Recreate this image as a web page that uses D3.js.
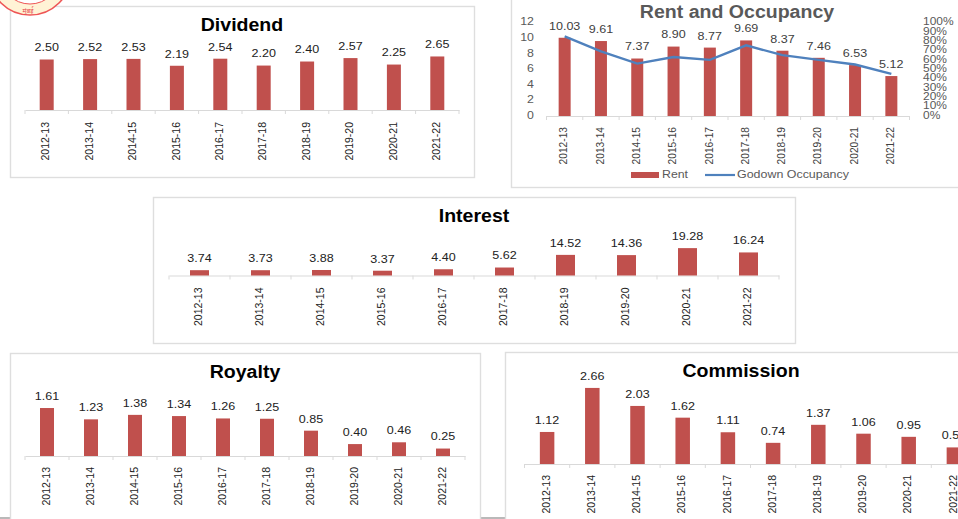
<!DOCTYPE html>
<html><head><meta charset="utf-8">
<style>
html,body{margin:0;padding:0;background:#fff;overflow:hidden}
svg{display:block}
text{font-family:"Liberation Sans",Arial,sans-serif}
</style>
<script src="https://cdn.jsdelivr.net/npm/d3@7/dist/d3.min.js"></script>
</head><body><svg id="c" width="958" height="519"></svg>
<script>
const years = ["2012-13","2013-14","2014-15","2015-16","2016-17","2017-18","2018-19","2019-20","2020-21","2021-22"];
const dividend = [2.50,2.52,2.53,2.19,2.54,2.20,2.40,2.57,2.25,2.65];
const rent = [10.03,9.61,7.37,8.90,8.77,9.69,8.37,7.46,6.53,5.12];
const occupancy = [85,69,56,63,60,75.5,65,60,55,45];
const interest = [3.74,3.73,3.88,3.37,4.40,5.62,14.52,14.36,19.28,16.24];
const royalty = [1.61,1.23,1.38,1.34,1.26,1.25,0.85,0.40,0.46,0.25];
const commission = [1.12,2.66,2.03,1.62,1.11,0.74,1.37,1.06,0.95,0.58];
const leftTicks = [0,2,4,6,8,10,12];
const rightTicks = [0,10,20,30,40,50,60,70,80,90,100];

const RED="#c0504d", GRID="#d9d9d9", FRAME="#dedede", BLUE="#4f81bd";
const svg=d3.select("#c");

// the reference's text is slightly wider than its height suggests
function widen(sel,k){
  sel.each(function(){
    const w=this.getComputedTextLength();
    d3.select(this).attr("textLength",w*k).attr("lengthAdjust","spacingAndGlyphs");
  });
  return sel;
}

[[0,10],[480,505]].forEach(([a,b])=>svg.append("line").attr("x1",a).attr("x2",b).attr("y1",518).attr("y2",518).attr("stroke","#8a8a8a").attr("stroke-width",1.2));

function panel(cfg){
  const g=svg.append("g");
  g.append("rect").attr("x",cfg.frame[0]+.5).attr("y",cfg.frame[1]+.5).attr("width",cfg.frame[2]-cfg.frame[0]).attr("height",cfg.frame[3]-cfg.frame[1])
    .attr("fill","#fff").attr("stroke",FRAME).attr("stroke-width",1.4);
  widen(g.append("text").attr("x",cfg.titleX).attr("y",cfg.titleY).attr("text-anchor","middle").attr("dominant-baseline","middle")
    .attr("font-size",18).attr("font-weight","bold").attr("fill",cfg.titleColor||"#000").text(cfg.title),1.085);
  const x=d3.scaleBand().domain(years).range(cfg.xr);
  const y=d3.scaleLinear().domain([0,cfg.ymax]).range([cfg.y0,cfg.y0-cfg.ymax*cfg.ppu]);
  const ax=g.append("g").attr("transform",`translate(0,${cfg.y0})`).call(d3.axisBottom(x).tickSize(0).tickFormat(d=>d));
  ax.select(".domain").attr("stroke",GRID).attr("stroke-width",1);
  ax.selectAll(".tick text").remove();
  const edges=years.map(d=>x(d)).concat([cfg.xr[1]]);
  g.selectAll("line.tk").data(edges).join("line").attr("class","tk")
    .attr("x1",d=>d).attr("x2",d=>d).attr("y1",cfg.y0).attr("y2",cfg.y0+4).attr("stroke",GRID);
  g.selectAll("rect.bar").data(cfg.values).join("rect").attr("class","bar")
    .attr("x",(d,i)=>x(years[i])+x.bandwidth()/2-cfg.bw/2).attr("width",cfg.bw)
    .attr("y",d=>y(d)).attr("height",d=>cfg.y0-y(d)).attr("fill",RED);
  widen(g.selectAll("text.lab").data(cfg.values).join("text").attr("class","lab")
    .attr("x",(d,i)=>x(years[i])+x.bandwidth()/2).attr("y",d=>y(d)-11).attr("text-anchor","middle").attr("dominant-baseline","middle")
    .attr("font-size",11).attr("fill",cfg.labelColor||"#222").text(d=>d.toFixed(2)),1.14);
  g.selectAll("text.yr").data(years).join("text").attr("class","yr")
    .attr("transform",d=>`translate(${x(d)+x.bandwidth()/2},${cfg.y0+cfg.yrOff}) rotate(-90)`)
    .attr("text-anchor","end").attr("dominant-baseline","middle").attr("font-size",cfg.yrSize||10.5).attr("fill",cfg.labelColor||"#222").text(d=>d);
  return {g,x,y};
}

panel({frame:[10,6,474,177],title:"Dividend",titleX:242,titleY:26,values:dividend,ymax:3,ppu:20.2,y0:110,xr:[25,459],bw:14,yrOff:12});

const rp=panel({frame:[511,-5,975,187],title:"Rent and Occupancy",titleX:737,titleY:13.5,titleColor:"#595959",values:rent,ymax:12,ppu:7.8,y0:116,xr:[546.5,909.5],bw:12,yrOff:11,labelColor:"#404040",yrSize:10.2});
const yR=d3.scaleLinear().domain([0,100]).range([116,22.4]);
widen(rp.g.selectAll("text.lt").data(leftTicks).join("text").attr("class","lt").attr("x",534).attr("y",d=>rp.y(d)).attr("text-anchor","end").attr("dominant-baseline","middle").attr("font-size",11).attr("fill","#595959").text(d=>d),1.12);
widen(rp.g.selectAll("text.rt").data(rightTicks).join("text").attr("class","rt").attr("x",923).attr("y",d=>yR(d)).attr("dominant-baseline","middle").attr("font-size",10.5).attr("fill","#595959").text(d=>d+"%"),1.14);
rp.g.append("path").attr("fill","none").attr("stroke",BLUE).attr("stroke-width",2.4)
  .attr("d",d3.line().x((d,i)=>rp.x(years[i])+rp.x.bandwidth()/2).y(d=>yR(d))(occupancy));
rp.g.append("rect").attr("x",631).attr("y",172).attr("width",28).attr("height",6).attr("fill",RED);
widen(rp.g.append("text").attr("x",662).attr("y",175).attr("dominant-baseline","middle").attr("font-size",11).attr("fill","#595959").text("Rent"),1.12);
rp.g.append("line").attr("x1",705).attr("x2",735).attr("y1",175).attr("y2",175).attr("stroke",BLUE).attr("stroke-width",2.2);
widen(rp.g.append("text").attr("x",737).attr("y",175).attr("dominant-baseline","middle").attr("font-size",11).attr("fill","#595959").text("Godown Occupancy"),1.13);

panel({frame:[153,197,795,343],title:"Interest",titleX:474,titleY:217,values:interest,ymax:20,ppu:1.42,y0:275.5,xr:[169,779],bw:19,yrOff:12});
panel({frame:[10,353,480,525],title:"Royalty",titleX:245,titleY:373.5,values:royalty,ymax:2,ppu:29.8,y0:456,xr:[25,465],bw:14,yrOff:11});
panel({frame:[505,352,975,525],title:"Commission",titleX:741,titleY:372,values:commission,ymax:3,ppu:28.6,y0:464,xr:[524.5,976.5],bw:14.5,yrOff:11});

// seal fragment (drawn over the Dividend frame corner)
const seal=svg.append("g");
seal.append("circle").attr("cx",30).attr("cy",-26).attr("r",41).attr("fill","#fff3d6").attr("stroke","#ee5555").attr("stroke-width",1.6);
seal.append("circle").attr("cx",30).attr("cy",-26).attr("r",30).attr("fill","#fff").attr("stroke","#ee5555").attr("stroke-width",1);
seal.append("text").attr("x",28).attr("y",12.5).attr("text-anchor","middle").attr("font-size",6.5).attr("fill","#e8494c")
    .style("font-family","'Noto Sans','DejaVu Sans',sans-serif").text("मुंबई");
</script></body></html>
